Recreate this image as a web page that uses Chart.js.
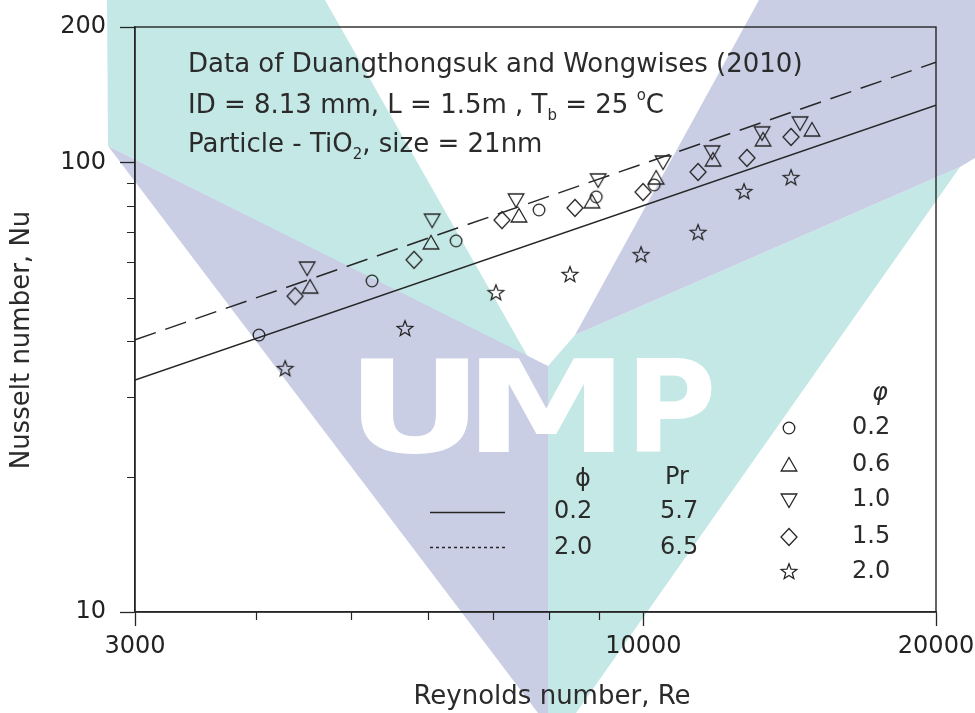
<!DOCTYPE html>
<html><head><meta charset="utf-8">
<script src="https://cdn.jsdelivr.net/npm/chart.js@4.4.1/dist/chart.umd.min.js"></script>
<style>html,body{margin:0;padding:0;background:#fff;}#wrap{width:975px;height:713px;}</style>
</head><body><div id="wrap"><canvas id="c" width="975" height="713"></canvas></div>
<script>
// ---- data ----
const rePhi02 = [4024, 5259, 6418, 7811, 8944, 10261];
const nuPhi02 = [41.3, 54.5, 66.9, 78.4, 83.8, 89.1];
const rePhi06 = [4542, 6047, 7449, 8853, 10308, 11794, 13277, 14909];
const nuPhi06 = [52.8, 66.2, 76.0, 81.7, 92.3, 101.2, 112.2, 118.0];
const rePhi10 = [4510, 6064, 7397, 8985, 10479, 11767, 13246, 14494];
const nuPhi10 = [58.2, 74.4, 82.5, 91.4, 100.2, 105.5, 116.3, 122.4];
const rePhi15 = [4383, 5809, 7155, 8505, 9993, 11383, 12782, 14187];
const nuPhi15 = [50.4, 60.7, 74.4, 79.2, 85.9, 95.2, 102.3, 113.9];
const rePhi20 = [4281, 5686, 7053, 8405, 9945, 11383, 12693, 14187];
const nuPhi20 = [34.7, 42.6, 51.2, 56.2, 62.2, 69.7, 85.9, 92.3];
const reFit = [3000, 20000];
const nuFitPhi02 = [32.8, 134];
const nuFitPhi20 = [40.3, 167];
const xMajorTicks = [3000, 10000, 20000];
const xMinorTicks = [4000, 5000, 6000, 7000, 8000, 9000];
const yMajorTicks = [10, 100, 200];
const yMinorTicks = [20, 30, 40, 50, 60, 70, 80, 90];

const INK = '#262626';
const FONT = '"DejaVu Sans", sans-serif';
const TEAL = '#c4e8e5';
const LAV = '#c9cee5';

function makeMarker(type){
  const c = document.createElement('canvas'); c.width = 22; c.height = 22;
  const g = c.getContext('2d'); g.strokeStyle = INK; g.lineWidth = 1.3; g.beginPath();
  const cx = 11, cy = 11;
  if (type === 'circle') { g.arc(cx, cy, 5.8, 0, Math.PI*2); }
  else if (type === 'up') { g.moveTo(cx, cy-7.5); g.lineTo(cx+7.8, cy+6); g.lineTo(cx-7.8, cy+6); g.closePath(); }
  else if (type === 'down') { g.moveTo(cx, cy+7.5); g.lineTo(cx+7.8, cy-6); g.lineTo(cx-7.8, cy-6); g.closePath(); }
  else if (type === 'diamond') { g.moveTo(cx, cy-8.5); g.lineTo(cx+8, cy); g.lineTo(cx, cy+8.5); g.lineTo(cx-8, cy); g.closePath(); }
  else if (type === 'star') {
    for (let i=0;i<10;i++){ const r = i%2===0 ? 8.2 : 3.5; const a = -Math.PI/2 + i*Math.PI/5;
      const px = cx + r*Math.cos(a), py = cy + r*Math.sin(a); if(i===0) g.moveTo(px,py); else g.lineTo(px,py); }
    g.closePath();
  }
  g.stroke(); return c;
}
const markers = {circle: makeMarker('circle'), up: makeMarker('up'), down: makeMarker('down'), diamond: makeMarker('diamond'), star: makeMarker('star')};

const pts = (xs, ys) => xs.map((x,i)=>({x, y: ys[i]}));
const scatterDs = (label, xs, ys, m) => ({label, data: pts(xs, ys), pointStyle: markers[m], pointRadius: 7, showLine: false});

// background watermark of the scanned source page (decoration, not data)
const watermark = {
  id: 'watermark',
  beforeDraw(chart){
    const ctx = chart.ctx;
    ctx.save();
    const poly = (col, p) => { ctx.fillStyle = col; ctx.beginPath(); p.forEach(([x,y],i)=> i ? ctx.lineTo(x,y) : ctx.moveTo(x,y)); ctx.closePath(); ctx.fill(); };
    poly(TEAL, [[107,0],[325,0],[528,357],[108,146]]);
    poly(LAV,  [[108,146],[548,366],[548,713],[538,713]]);
    poly(TEAL, [[548,366],[575,335],[960,167],[576,713],[548,713]]);
    poly(LAV,  [[759,0],[975,0],[975,158],[960,167],[575,335]]);
    // white "UMP" lettering of the watermark
    ctx.fillStyle = '#ffffff'; ctx.textBaseline = 'alphabetic'; ctx.textAlign = 'left';
    ctx.font = 'bold 129px ' + FONT;
    [['U', 360, 108], ['M', 478, 136], ['P', 636, 76]].forEach(([L, x, w]) => {
      const m = ctx.measureText(L); const ink = m.actualBoundingBoxLeft + m.actualBoundingBoxRight;
      ctx.save(); ctx.translate(x, 452); ctx.scale(w / ink, 1); ctx.fillText(L, m.actualBoundingBoxLeft, 0); ctx.restore();
    });
    ctx.restore();
  }
};

const frame = {
  id: 'frame',
  afterDraw(chart){
    const {ctx, chartArea: a, scales} = chart;
    ctx.save();
    ctx.strokeStyle = INK; ctx.lineWidth = 1.4;
    ctx.strokeRect(a.left, a.top, a.right - a.left, a.bottom - a.top);
    ctx.beginPath();
    xMinorTicks.forEach(v => { const px = Math.round(scales.x.getPixelForValue(v)) + 0.5; ctx.moveTo(px, a.bottom); ctx.lineTo(px, a.bottom + 8); });
    yMinorTicks.forEach(v => { const py = Math.round(scales.y.getPixelForValue(v)) + 0.5; ctx.moveTo(a.left - 8, py); ctx.lineTo(a.left, py); });
    ctx.lineWidth = 1.2; ctx.stroke();

    ctx.fillStyle = '#2b2b2b'; ctx.textAlign = 'left'; ctx.textBaseline = 'alphabetic';
    const runs = (x, y, parts) => { parts.forEach(p => { ctx.font = (p.s||26) + 'px ' + FONT; ctx.fillText(p.t, x, y + (p.dy||0)); x += ctx.measureText(p.t).width; }); };
    runs(188, 72, [{t:'Data of Duangthongsuk and Wongwises (2010)'}]);
    runs(188, 113, [{t:'ID = 8.13 mm, L = 1.5m , T'},{t:'b', s:15, dy:7},{t:' = 25 '},{t:'o', s:15, dy:-13},{t:'C'}]);
    runs(188, 152, [{t:'Particle - TiO'},{t:'2', s:15, dy:7},{t:', size = 21nm'}]);

    // axis titles
    ctx.font = '26px ' + FONT; ctx.textAlign = 'center'; ctx.textBaseline = 'middle';
    ctx.fillText('Reynolds number, Re', 552, 697);
    ctx.save(); ctx.translate(22, 340); ctx.rotate(-Math.PI/2); ctx.fillText('Nusselt number, Nu', 0, 0); ctx.restore();

    // middle legend (fits)
    ctx.font = '24px ' + FONT; ctx.textBaseline = 'middle';
    ctx.textAlign = 'center';
    ctx.fillText('\u03D5', 583, 480); ctx.fillText('Pr', 677, 478);
    ctx.textAlign = 'left';
    ctx.fillText('0.2', 554, 512); ctx.fillText('5.7', 660, 512);
    ctx.fillText('2.0', 554, 548); ctx.fillText('6.5', 660, 548);
    ctx.strokeStyle = INK; ctx.lineWidth = 1.5;
    ctx.beginPath(); ctx.moveTo(430, 512.5); ctx.lineTo(505, 512.5); ctx.stroke();
    ctx.setLineDash([3, 3]); ctx.beginPath(); ctx.moveTo(430, 547.5); ctx.lineTo(505, 547.5); ctx.stroke(); ctx.setLineDash([]);

    // right legend (symbols)
    ctx.font = 'italic 24px ' + FONT; ctx.textAlign = 'center';
    ctx.fillText('\u03C6', 880, 394);
    ctx.font = '24px ' + FONT; ctx.textAlign = 'left';
    const rows = [['circle','0.2',428],['up','0.6',465],['down','1.0',500],['diamond','1.5',537],['star','2.0',572]];
    rows.forEach(([m, t, y]) => { ctx.drawImage(markers[m], 789 - 11, y - 11); ctx.fillText(t, 852, y); });
    ctx.restore();
  }
};

new Chart(document.getElementById('c'), {
  type: 'scatter',
  data: {
    datasets: [
      {label:'fit 0.2', data: pts(reFit, nuFitPhi02), showLine: true, borderColor: INK, borderWidth: 1.5, pointRadius: 0},
      {label:'fit 2.0', data: pts(reFit, nuFitPhi20), showLine: true, borderColor: INK, borderWidth: 1.5, borderDash: [22, 10], pointRadius: 0},
      scatterDs('0.2', rePhi02, nuPhi02, 'circle'),
      scatterDs('0.6', rePhi06, nuPhi06, 'up'),
      scatterDs('1.0', rePhi10, nuPhi10, 'down'),
      scatterDs('1.5', rePhi15, nuPhi15, 'diamond'),
      scatterDs('2.0', rePhi20, nuPhi20, 'star')
    ]
  },
  options: {
    responsive: false, animation: false, devicePixelRatio: 1,
    layout: {padding: {top: 27, right: 39, left: 0, bottom: 0}},
    plugins: {legend: {display: false}, tooltip: {enabled: false}},
    scales: {
      x: {
        type: 'logarithmic', min: 3000, max: 20000,
        afterFit: s => { s.height = 101; s.paddingLeft = 0; s.paddingRight = 0; },
        afterBuildTicks: s => { s.ticks = xMajorTicks.map(v => ({value: v})); },
        ticks: {autoSkip: false, maxRotation: 0, padding: 6, color: '#222', font: {family: FONT, size: 24}, callback: v => String(v)},
        grid: {drawOnChartArea: false, drawTicks: true, tickLength: 14, tickColor: INK, tickWidth: 1.3},
        border: {display: true, color: INK, width: 1.4},
        title: {display: false}
      },
      y: {
        type: 'logarithmic', min: 10, max: 200,
        afterFit: s => { s.width = 135; s.paddingTop = 0; s.paddingBottom = 0; },
        afterBuildTicks: s => { s.ticks = yMajorTicks.map(v => ({value: v})); },
        ticks: {autoSkip: false, padding: 14, color: '#222', font: {family: FONT, size: 24}, callback: v => String(v)},
        grid: {drawOnChartArea: false, drawTicks: true, tickLength: 15, tickColor: INK, tickWidth: 1.3},
        border: {display: true, color: INK, width: 1.4},
        title: {display: false}
      }
    }
  },
  plugins: [watermark, frame]
});
</script></body></html>
